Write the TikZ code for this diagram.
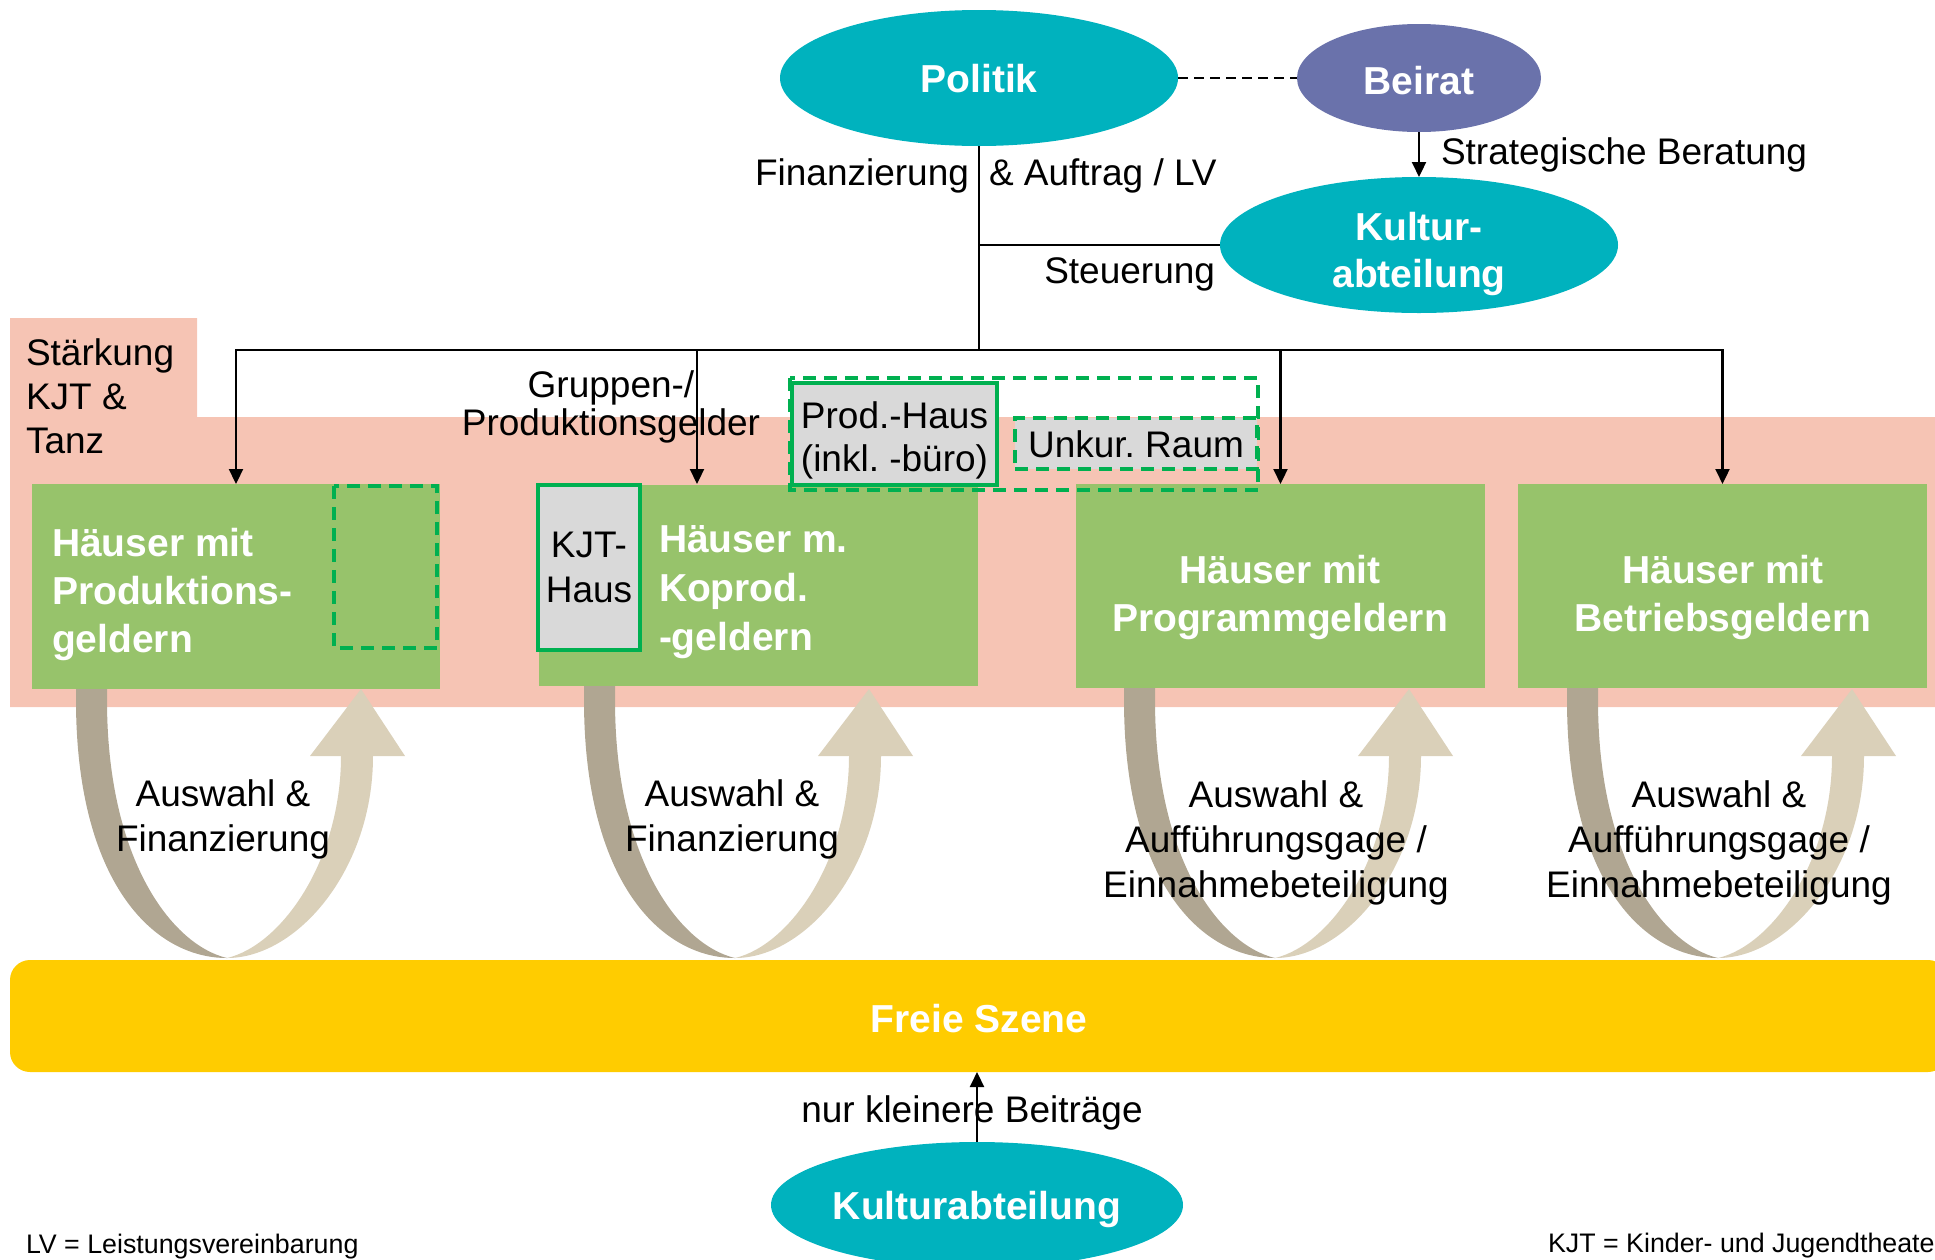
\documentclass[tikz,border=0pt]{standalone}
\usepackage{fontspec}
\setmainfont{Liberation Sans}
\frenchspacing
\usetikzlibrary{arrows.meta,shapes.geometric}

\definecolor{cTeal}{HTML}{00B2BE}
\definecolor{cBeirat}{HTML}{6A72AB}
\definecolor{cGreen}{HTML}{97C36B}
\definecolor{cPink}{HTML}{F6C4B4}
\definecolor{cYellow}{HTML}{FFCC00}
\definecolor{cGrayBox}{HTML}{D9D9D9}
\definecolor{cDash}{HTML}{00B050}
\definecolor{cArmDark}{HTML}{B0A692}
\definecolor{cArmLight}{HTML}{DAD0B9}

\begin{document}
\begin{tikzpicture}[x=1pt,y=-1pt,
  txt/.style={inner sep=0pt, outer sep=0pt, font=\fontsize{37}{44}\selectfont},
  btxt/.style={inner sep=0pt, outer sep=0pt, text=white, font=\bfseries\fontsize{39}{48}\selectfont},
  note/.style={inner sep=0pt, outer sep=0pt, font=\fontsize{26.8}{32}\selectfont},
  oval/.style={ellipse, inner sep=0pt, outer sep=0pt, fill=cTeal},
  ovaltxt/.style={inner sep=0pt, outer sep=0pt, text=white, align=center,
    font=\bfseries\fontsize{39}{47}\selectfont},
  house/.style={rectangle, inner sep=0pt, outer sep=0pt, fill=cGreen},
  graybox/.style={rectangle, inner sep=0pt, outer sep=0pt, fill=cGrayBox},
  graytxt/.style={inner sep=0pt, outer sep=0pt, align=center, font=\fontsize{37}{43}\selectfont},
  greendash/.style={draw=cDash, line width=4pt, dash pattern=on 13pt off 8pt},
  conn/.style={draw=black, line width=2.2pt},
  arr/.style={conn, -{Triangle[length=15pt,width=14pt]}},
]
\useasboundingbox (0,0) rectangle (1935,1259);
\clip (0,0) rectangle (1935,1259);

% pink band with the tab on the left
\fill[cPink] (10,318) -- (197,318) -- (197,417) -- (1935,417) -- (1935,707) -- (10,707) -- cycle;

% U-shaped exchange arrows between the houses and the free scene
\foreach \b in {227,735,1275,1718}{
  \begin{scope}[xshift=\b pt]
    \fill[cArmDark] (-151,685) -- (-151,700) .. controls (-151,880) and (-75,958) .. (0,958)
      .. controls (-55,945) and (-120,860) .. (-120,700) -- (-120,685) -- cycle;
    \fill[cArmLight] (0,958) .. controls (70,958) and (146,870) .. (146,756)
      -- (178,756) -- (134,689) -- (83,756) -- (114,756)
      .. controls (114,860) and (55,945) .. (0,958) -- cycle;
  \end{scope}
}

% houses
\node[house, minimum width=408pt, minimum height=205pt] (box1) at (236,586.5) {};
\node[house, minimum width=439pt, minimum height=201pt] (box2) at (758.5,585.5) {};
\node[house, minimum width=409pt, minimum height=204pt] (box3) at (1280.5,586) {};
\node[house, minimum width=409pt, minimum height=204pt] (box4) at (1722.5,586) {};

\draw[greendash] (334,486) rectangle (437,648);

\node[graybox, draw=cDash, line width=4pt, minimum width=102pt, minimum height=165pt] (kjt) at (589,567.5) {};
\node[graytxt, font=\fontsize{37}{45}\selectfont] (kjttxt) at (589,567.5) {KJT-\\Haus};

\draw[greendash] (790,378) rectangle (1258,490);
\node[graybox, draw=cDash, line width=4pt, minimum width=205pt, minimum height=102pt] (prod) at (894.5,434) {};
\node[graytxt] (prodtxt) at (894.5,440.5) {Prod.-Haus\\(inkl. -büro)};
\node[graybox, greendash, minimum width=242pt, minimum height=51pt] (unkur) at (1136,443.5) {};
\node[graytxt] (unkurtxt) at (1136,444.5) {Unkur. Raum};

% texts in the houses
\node[btxt, anchor=west, align=left] (t1) at (52,594) {Häuser mit\\Produktions-\\geldern};
\node[btxt, anchor=west, align=left, font=\bfseries\fontsize{39}{49}\selectfont] (t2) at (659,592.5) {Häuser m.\\Koprod.\\-geldern};
\node[btxt, align=center] (t3) at (1280,597) {Häuser mit\\Programmgeldern};
\node[btxt, align=center] (t4) at (1723,597) {Häuser mit\\Betriebsgeldern};

% top organisation
\node[oval, minimum width=398pt, minimum height=136pt] (pol) at (979,78) {};
\node[ovaltxt] (poltxt) at (979,79) {Politik};
\node[oval, fill=cBeirat, minimum width=244pt, minimum height=108pt] (bei) at (1419,78) {};
\node[ovaltxt] (beitxt) at (1419,80.5) {Beirat};
\node[oval, minimum width=398pt, minimum height=136pt] (kul) at (1419,245) {};
\node[ovaltxt] (kultxt) at (1419,253.5) {Kultur-\\abteilung};

\coordinate (hub) at (979,350);
\coordinate (a2) at (697,484);

\draw[conn, dash pattern=on 10pt off 6pt] (pol.east) -- (bei.west);
\draw[arr] (bei.south) -- (kul.north);
\draw[conn] (pol.south) -- (hub);
\draw[conn] (pol.south |- kul.west) -- (kul.west);
\draw[arr] (hub) -| (box1.north);
\draw[arr] (hub) -| (a2);
\draw[arr] (hub) -| (box3.north);
\draw[arr] (hub) -| (box4.north);

\node[txt, anchor=base east] (tfin) at (969,185) {Finanzierung};
\node[txt, anchor=base west] (tauf) at (989,185) {\& Auftrag / LV};
\node[txt, anchor=base west] (tstrat) at (1441,164.5) {Strategische Beratung};
\node[txt, anchor=base east] (tsteu) at (1215,283.5) {Steuerung};
\node[txt, anchor=west, align=left] (tstk) at (26,396.5) {Stärkung\\KJT \&\\Tanz};
\node[txt, align=center, font=\fontsize{37}{38.5}\selectfont] (tgr) at (611,407) {Gruppen-/\\Produktionsgelder};

% labels of the exchange arrows
\node[txt, align=center, font=\fontsize{37}{45}\selectfont] (la1) at (223,819.5) {Auswahl \&\\Finanzierung};
\node[txt, align=center, font=\fontsize{37}{45}\selectfont] (la2) at (732,819.5) {Auswahl \&\\Finanzierung};
\node[txt, align=center, font=\fontsize{37}{45}\selectfont] (la3) at (1276,843) {Auswahl \&\\Aufführungsgage /\\Einnahmebeteiligung};
\node[txt, align=center, font=\fontsize{37}{45}\selectfont] (la4) at (1719,843) {Auswahl \&\\Aufführungsgage /\\Einnahmebeteiligung};

% free scene and the small contributions
\node[rectangle, rounded corners=20pt, fill=cYellow, inner sep=0pt, outer sep=0pt,
  minimum width=1938pt, minimum height=112pt] (fs) at (979,1016) {};
\node[ovaltxt] (fstxt) at (979,1019) {Freie Szene};
\node[oval, minimum width=412pt, minimum height=126pt] (kab) at (977,1205) {};
\node[ovaltxt] (kabtxt) at (977,1209.5) {Kulturabteilung};
\node[txt, anchor=base] (tnur) at (972,1122) {nur kleinere Beiträge};
\draw[arr] (kab.north) -- (kab.north |- fs.south);

% footnotes
\node[note, anchor=base west] (fn1) at (26,1253) {LV = Leistungsvereinbarung};
\node[note, anchor=base west] (fn2) at (1548,1252) {KJT = Kinder- und Jugendtheater};
\end{tikzpicture}
\end{document}
